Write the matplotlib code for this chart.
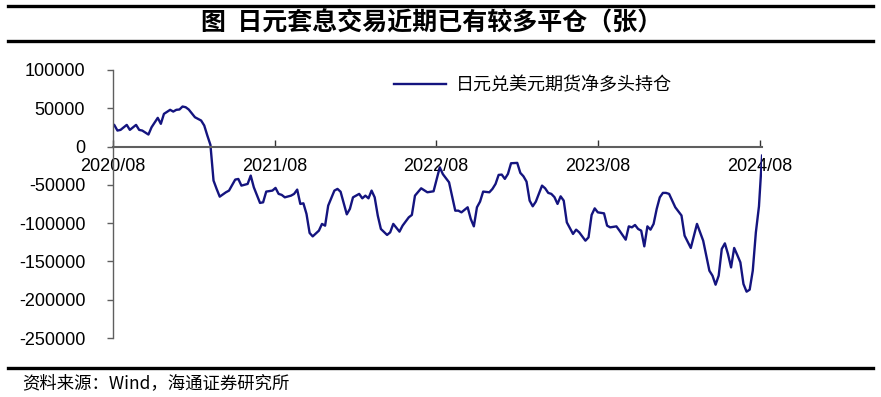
import numpy as np
import pandas as pd
import matplotlib
matplotlib.use("Agg")
import matplotlib.pyplot as plt
from matplotlib.lines import Line2D

# Configuration
out_path = "out.png"
line_color = "#14147f"
axis_color = "#5f5f5f"
title_text = "图  日元套息交易近期已有较多平仓（张）"
series_label = "日元兑美元期货净多头持仓"
source_text = "资料来源：Wind，海通证券研究所"

# weekly CFTC reports, counted in weeks from the first report date
start_date = "2020-08-04"
weeks = [0, 1, 2, 4, 5, 7, 8, 9, 11, 12, 14, 15, 16, 18, 19, 20, 21, 22, 23, 24,
         26, 28, 29, 30, 31, 32, 33, 34, 36, 37, 39, 40, 41, 43, 44, 45, 47, 48, 49, 51,
         52, 53, 54, 55, 57, 58, 59, 60, 61, 62, 63, 64, 66, 67, 68, 69, 71, 72, 73, 75,
         76, 77, 79, 80, 81, 82, 83, 84, 85, 86, 88, 89, 90, 92, 93, 95, 96, 97, 99, 101,
         103, 105, 106, 108, 110, 111, 112, 114, 115, 116, 117, 118, 119, 121, 122, 123, 124, 125, 126, 127,
         128, 130, 131, 132, 133, 134, 135, 136, 138, 139, 140, 141, 142, 143, 144, 145, 146, 148, 149, 150,
         152, 153, 154, 155, 156, 158, 159, 160, 162, 163, 165, 166, 167, 168, 169, 170, 171, 172, 173, 174,
         175, 176, 177, 178, 179, 181, 183, 184, 186, 188, 190, 191, 192, 193, 194, 195, 196, 197, 198, 199,
         200, 201, 202, 203, 204, 205, 206, 207, 208, 209]
net_long = [28000, 20900, 21800, 28300, 21800, 28300, 21800, 20900, 15700, 25200,
            37500, 29700, 42700, 48000, 45700, 48000, 48400, 52300, 51400, 48400,
            38300, 34000, 27500, 14400, 2200, -44400, -55300, -65400, -59700, -57500,
            -43100, -42300, -51000, -48800, -37900, -53200, -73600, -72800, -58800, -57500,
            -54000, -61800, -63100, -66300, -64100, -61800, -56200, -74900, -74100, -88000,
            -112800, -117300, -109800, -101000, -103300, -77100, -57500, -55300, -59000, -88500,
            -81400, -66300, -61800, -67600, -64100, -67600, -57500, -66300, -90200, -107600,
            -115400, -112000, -101000, -111100, -103300, -92400, -89300, -64100, -54500, -59700,
            -58400, -27100, -36000, -46700, -83700, -83700, -85900, -79300, -94500, -104200,
            -79300, -71900, -58800, -59700, -55300, -48800, -37000, -36600, -42200, -35700,
            -21800, -21300, -34400, -38800, -45800, -70600, -78000, -71900, -51000, -54500,
            -60500, -61800, -66000, -74900, -65000, -70600, -99000, -114100, -108500, -112000,
            -122900, -118600, -89300, -80700, -85900, -87200, -103300, -105500, -104200, -109800,
            -121600, -104200, -105500, -102400, -107600, -109800, -130300, -104200, -108500, -101000,
            -81400, -66300, -60500, -60500, -61800, -79300, -90000, -116300, -132400, -101000,
            -122900, -142500, -162100, -168600, -180400, -168600, -133700, -126400, -140300, -157800,
            -132400, -141600, -151200, -179500, -189500, -186900, -162100, -112000, -78000, -11800]

tick_dates = ["2020-08-01", "2021-08-01", "2022-08-01", "2023-08-01", "2024-08-01"]
tick_labels = ["2020/08", "2021/08", "2022/08", "2023/08", "2024/08"]
y_ticks = [100000, 50000, 0, -50000, -100000, -150000, -200000, -250000]

dates = pd.Timestamp(start_date) + pd.to_timedelta(np.array(weeks) * 7, unit="D")

plt.rcParams["font.family"] = ["Liberation Sans", "Noto Sans CJK SC"]
cjk = ["Noto Sans CJK SC", "DejaVu Sans"]

fig = plt.figure(figsize=(8.81, 3.97), dpi=100)
ax = fig.add_axes([0.1283, 0.1486, 0.7367, 0.6751])

ax.plot(dates, net_long, color=line_color, linewidth=1.7, label=series_label)

ax.set_ylim(-250000, 100000)
ax.set_yticks(y_ticks)
ax.set_yticklabels([str(v) for v in y_ticks])
ax.set_xlim(pd.Timestamp("2020-08-01"), pd.Timestamp("2024-08-06"))
ax.set_xticks(pd.to_datetime(tick_dates))
ax.set_xticklabels(tick_labels)

for s in ["top", "right"]:
    ax.spines[s].set_visible(False)
ax.spines["left"].set_color(axis_color)
ax.spines["left"].set_linewidth(1.0)
ax.spines["bottom"].set_position(("data", 0))
ax.spines["bottom"].set_color(axis_color)
ax.spines["bottom"].set_linewidth(1.5)

ax.tick_params(axis="y", direction="out", length=4, width=1, color=axis_color,
               labelsize=13, pad=16)
ax.tick_params(axis="x", direction="in", length=5, width=1, color="#333333",
               labelsize=13, pad=8)

leg = ax.legend(loc="center left", bbox_to_anchor=(0.437, 0.786),
                bbox_transform=fig.transFigure, frameon=False,
                handlelength=2.9, handletextpad=0.5, borderpad=0,
                prop={"family": cjk, "size": 13})

# title block and source block with rules
for y, lw in [(0.986, 2.4), (0.896, 2.4), (0.073, 2.4)]:
    fig.add_artist(Line2D([0.009, 0.991], [y, y], color="black", linewidth=lw,
                          transform=fig.transFigure))
fig.text(0.49, 0.941, title_text, ha="center", va="center", fontsize=18,
         fontweight="bold", family=cjk)
fig.text(0.025, 0.035, source_text, ha="left", va="center", fontsize=12.5,
         family=cjk)

fig.savefig(out_path, dpi=100)
plt.close(fig)
